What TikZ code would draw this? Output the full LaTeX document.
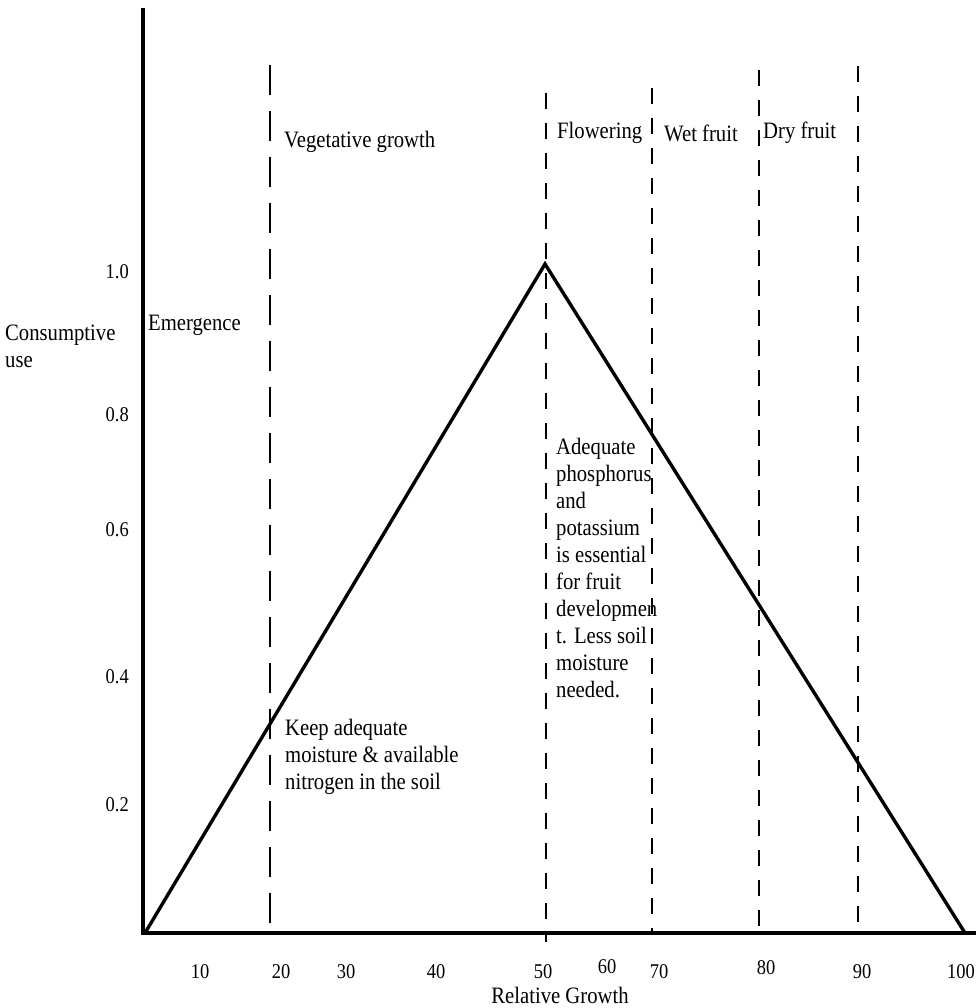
\documentclass[tikz,border=0pt]{standalone}
\usepackage{fontspec}
\setmainfont{Liberation Serif}[FakeStretch=0.88]
\begin{document}
\begin{tikzpicture}[x=1pt,y=-1pt,
  axis/.style={line width=4.5pt},
  curve/.style={line width=3.4pt,line join=miter},
  stage/.style={line width=1.5pt,dash pattern=on 16pt off 14pt},
  lbl/.style={inner sep=0pt,font=\fontsize{23.5}{27}\selectfont},
  small/.style={inner sep=0pt,font=\fontsize{21}{24}\selectfont},
  txt/.style={lbl,anchor=north west,align=left},
  ylbl/.style={small,anchor=east},
  xlbl/.style={small,anchor=center}]
\useasboundingbox (0,0) rectangle (976,1008);
% stage lines
\coordinate (s20t) at (270,65);   \coordinate (s20b) at (270,933);
\coordinate (s50t) at (546,93);   \coordinate (s50b) at (546,942);
\coordinate (s70t) at (652,88);   \coordinate (s70b) at (652,933);
\coordinate (s80t) at (759,70);   \coordinate (s80b) at (759,933);
\coordinate (s90t) at (858,66);   \coordinate (s90b) at (858,933);
\draw[stage,dash pattern=on 30pt off 16pt] (s20t) -- (s20b);
\draw[stage] (s50t) -- (s50b);
\draw[stage] (s70t) -- (s70b);
\draw[stage] (s80t) -- (s80b);
\draw[stage] (s90t) -- (s90b);
% axes
\coordinate (origin) at (143,933);
\coordinate (ytop) at (143,8);
\coordinate (xend) at (976,933);
\draw[axis] (ytop) -- (143,935.25);
\draw[axis] (140.75,933) -- (xend);
% triangle
\coordinate (start) at (145,933);
\coordinate (peak) at (545,264);
\coordinate (finish) at (965,933);
\draw[curve] (start) -- (peak) -- (finish);
% y labels
\node[ylbl] (y10) at (129,272) {1.0};
\node[ylbl] (y08) at (129,415) {0.8};
\node[ylbl] (y06) at (129,530) {0.6};
\node[ylbl] (y04) at (129,677) {0.4};
\node[ylbl] (y02) at (129,805) {0.2};
\node[txt] (ytitle) at (5,325) {Consumptive\\use};
% x labels
\node[xlbl] (x10) at (200,972) {10};
\node[xlbl] (x20) at (281,972) {20};
\node[xlbl] (x30) at (346,972) {30};
\node[xlbl] (x40) at (436,972) {40};
\node[xlbl] (x50) at (543,972) {50};
\node[xlbl] (x60) at (607,967) {60};
\node[xlbl] (x70) at (659,972) {70};
\node[xlbl] (x80) at (766,968) {80};
\node[xlbl] (x90) at (862,972) {90};
\node[xlbl] (x100) at (961,972) {100};
\node[lbl,anchor=base] (xtitle) at (560,1003) {Relative Growth};
% stage labels
\node[lbl,anchor=west] (emerg) at (148,325) {Emergence};
\node[lbl,anchor=west] (veg) at (284,142) {Vegetative growth};
\node[lbl,anchor=west] (flow) at (557,133) {Flowering};
\node[lbl,anchor=west] (wet) at (664,133) {Wet fruit};
\node[lbl,anchor=west] (dry) at (763,133) {Dry fruit};
% notes
\node[txt] (keep) at (285,719) {Keep adequate\\moisture \& available\\nitrogen in the soil};
\node[txt] (adeq) at (556,438) {Adequate\\phosphorus\\and\\potassium\\is essential\\for fruit\\developmen\\t. Less soil\\moisture\\needed.};
\end{tikzpicture}
\end{document}
